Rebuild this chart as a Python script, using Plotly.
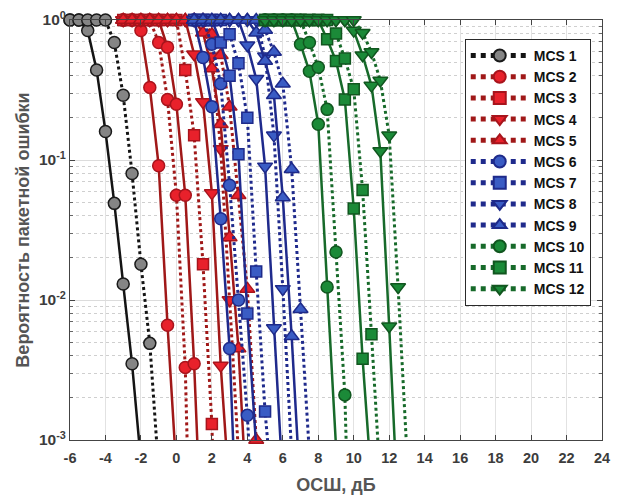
import plotly.graph_objects as go

# ---------------- data ----------------
mcs_names = ["MCS 1", "MCS 2", "MCS 3", "MCS 4", "MCS 5", "MCS 6",
             "MCS 7", "MCS 8", "MCS 9", "MCS 10", "MCS 11", "MCS 12"]

x_tick_vals = [-6, -4, -2, 0, 2, 4, 6, 8, 10, 12, 14, 16, 18, 20, 22, 24]
x_tick_text = ["-6", "-4", "-2", "0", "2", "4", "6", "8", "10", "12", "14", "16", "18", "20", "22", "24"]
y_tick_vals = [0.001, 0.01, 0.1, 1]
y_tick_text = ["10<sup>-3</sup>", "10<sup>-2</sup>", "10<sup>-1</sup>", "10<sup>0</sup>"]

# MCS 1
snr_1_solid = [-6, -5.5, -5, -4.5, -4, -3.5, -3, -2.5, -2]
per_1_solid = [1, 1, 0.84, 0.44, 0.16, 0.049, 0.013, 0.0035, 0.0007]
snr_1_dot = [-6, -5.5, -5, -4.5, -4, -3.5, -3, -2.5, -2, -1.5, -1]
per_1_dot = [1, 1, 1, 1, 1, 0.69, 0.29, 0.08, 0.018, 0.0049, 0.0006]
# MCS 2
snr_2_solid = [-3, -2.5, -2, -1.5, -1, -0.5, 0]
per_2_solid = [1, 1, 0.84, 0.33, 0.091, 0.0066, 0.0006]
snr_2_dot = [-3, -2.5, -2, -1.5, -1, -0.5, 0, 0.5, 1]
per_2_dot = [1, 1, 1, 1, 0.69, 0.27, 0.056, 0.0033, 0.00001]
# MCS 3
snr_3_solid = [-3, -2.5, -2, -1.5, -1, -0.5, 0, 0.5, 1, 1.5]
per_3_solid = [1, 1, 1, 1, 1, 0.64, 0.25, 0.056, 0.0035, 0.0001]
snr_3_dot = [-3, -2.5, -2, -1.5, -1, -0.5, 0, 0.5, 1, 1.5, 2, 2.5]
per_3_dot = [1, 1, 1, 1, 1, 1, 1, 0.44, 0.15, 0.018, 0.0013, 0.00001]
# MCS 4
snr_4_solid = [-3, -2.5, -2, -1.5, -1, -0.5, 0, 0.5, 1, 1.5, 2, 2.5, 3]
per_4_solid = [1, 1, 1, 1, 1, 1, 1, 1, 0.57, 0.26, 0.058, 0.0034, 0.0004]
snr_4_dot = [-3, -2.5, -2, -1.5, -1, -0.5, 0, 0.5, 1, 1.5, 2, 2.5, 3, 3.5]
per_4_dot = [1, 1, 1, 1, 1, 1, 1, 1, 1, 1, 0.55, 0.12, 0.01, 0.0008]
# MCS 5
snr_5_solid = [-3, -2.5, -2, -1.5, -1, -0.5, 0, 0.5, 1, 1.5, 2, 2.5, 3, 3.5, 4]
per_5_solid = [1, 1, 1, 1, 1, 1, 1, 1, 1, 0.81, 0.45, 0.18, 0.028, 0.0045, 0.0003]
snr_5_dot = [-3, -2.5, -2, -1.5, -1, -0.5, 0, 0.5, 1, 1.5, 2, 2.5, 3, 3.5, 4, 4.5]
per_5_dot = [1, 1, 1, 1, 1, 1, 1, 1, 1, 1, 0.79, 0.56, 0.24, 0.056, 0.012, 0.001]
# MCS 6
snr_6_solid = [1, 1.5, 2, 2.5, 3, 3.5]
per_6_solid = [1, 0.54, 0.24, 0.038, 0.0045, 0.0001]
snr_6_dot = [1, 1.5, 2, 2.5, 3, 3.5, 4, 4.5]
per_6_dot = [1, 1, 0.67, 0.35, 0.066, 0.01, 0.0015, 0.0001]
# MCS 7
snr_7_solid = [1, 1.5, 2, 2.5, 3, 3.5, 4, 4.5]
per_7_solid = [1, 1, 1, 0.69, 0.4, 0.11, 0.008, 0.0009]
snr_7_dot = [1, 1.5, 2, 2.5, 3, 3.5, 4, 4.5, 5, 5.5]
per_7_dot = [1, 1, 1, 1, 0.79, 0.49, 0.2, 0.016, 0.0016, 0.0003]
# MCS 8
snr_8_solid = [1, 1.5, 2, 2.5, 3, 3.5, 4, 4.5, 5, 5.5, 6]
per_8_solid = [1, 1, 1, 1, 1, 1, 0.66, 0.38, 0.09, 0.0063, 0.0005]
snr_8_dot = [1, 1.5, 2, 2.5, 3, 3.5, 4, 4.5, 5, 5.5, 6, 6.5]
per_8_dot = [1, 1, 1, 1, 1, 1, 1, 1, 0.55, 0.15, 0.012, 0.0008]
# MCS 9
snr_9_solid = [1, 1.5, 2, 2.5, 3, 3.5, 4, 4.5, 5, 5.5, 6, 6.5, 7]
per_9_solid = [1, 1, 1, 1, 1, 1, 1, 0.81, 0.51, 0.29, 0.054, 0.0055, 0.0004]
snr_9_dot = [1, 1.5, 2, 2.5, 3, 3.5, 4, 4.5, 5, 5.5, 6, 6.5, 7, 7.5]
per_9_dot = [1, 1, 1, 1, 1, 1, 1, 1, 0.85, 0.59, 0.35, 0.086, 0.0086, 0.0008]
# MCS 10
snr_10_solid = [5, 5.5, 6, 6.5, 7, 7.5, 8, 8.5, 9]
per_10_solid = [1, 1, 1, 1, 0.67, 0.43, 0.18, 0.0124, 0.0009]
snr_10_dot = [5, 5.5, 6, 6.5, 7, 7.5, 8, 8.5, 9, 9.5, 10]
per_10_dot = [1, 1, 1, 1, 1, 0.69, 0.46, 0.23, 0.022, 0.0021, 0.00001]
# MCS 11
snr_11_solid = [5, 5.5, 6, 6.5, 7, 7.5, 8, 8.5, 9, 9.5, 10, 10.5, 11]
per_11_solid = [1, 1, 1, 1, 1, 1, 1, 0.73, 0.51, 0.27, 0.045, 0.0038, 0.0005]
snr_11_dot = [5, 5.5, 6, 6.5, 7, 7.5, 8, 8.5, 9, 9.5, 10, 10.5, 11, 11.5]
per_11_dot = [1, 1, 1, 1, 1, 1, 1, 1, 0.8, 0.53, 0.32, 0.061, 0.0057, 0.0005]
# MCS 12
snr_12_solid = [5, 5.5, 6, 6.5, 7, 7.5, 8, 8.5, 9, 9.5, 10, 10.5, 11, 11.5, 12, 12.5]
per_12_solid = [1, 1, 1, 1, 1, 1, 1, 1, 1, 1, 0.84, 0.56, 0.34, 0.116, 0.0065, 0.0003]
snr_12_dot = [5, 5.5, 6, 6.5, 7, 7.5, 8, 8.5, 9, 9.5, 10, 10.5, 11, 11.5, 12, 12.5, 13]
per_12_dot = [1, 1, 1, 1, 1, 1, 1, 1, 1, 1, 1, 0.81, 0.59, 0.37, 0.15, 0.0124, 0.0008]

solid_x = [snr_1_solid, snr_2_solid, snr_3_solid, snr_4_solid, snr_5_solid, snr_6_solid,
           snr_7_solid, snr_8_solid, snr_9_solid, snr_10_solid, snr_11_solid, snr_12_solid]
solid_y = [per_1_solid, per_2_solid, per_3_solid, per_4_solid, per_5_solid, per_6_solid,
           per_7_solid, per_8_solid, per_9_solid, per_10_solid, per_11_solid, per_12_solid]
dot_x = [snr_1_dot, snr_2_dot, snr_3_dot, snr_4_dot, snr_5_dot, snr_6_dot,
         snr_7_dot, snr_8_dot, snr_9_dot, snr_10_dot, snr_11_dot, snr_12_dot]
dot_y = [per_1_dot, per_2_dot, per_3_dot, per_4_dot, per_5_dot, per_6_dot,
         per_7_dot, per_8_dot, per_9_dot, per_10_dot, per_11_dot, per_12_dot]

# ---------------- styles ----------------
groups = ["k", "r", "r", "r", "r", "b", "b", "b", "b", "g", "g", "g"]
symbols = ["circle", "circle", "square", "triangle-down", "triangle-up", "circle",
           "square", "triangle-down", "triangle-up", "circle", "square", "triangle-down"]
solid_symbols = ["circle", "circle", "circle", "triangle-down", "triangle-up", "circle",
                 "square", "triangle-down", "triangle-up", "circle", "square", "triangle-down"]
line_col = {"k": "#141414", "r": "#a01818", "b": "#1f2a8c", "g": "#176a2a"}
fill_col = {"k": "#858585", "r": "#e8212b", "b": "#3a5cc4", "g": "#1b8a38"}
edge_col = {"k": "#1a1a1a", "r": "#a8141c", "b": "#1e2a8a", "g": "#11561f"}
sym_size = {"circle": 12, "square": 11, "triangle-down": 13, "triangle-up": 13}


def sizes(vals, s):
    return [s if v >= 0.001 else 0 for v in vals]


fig = go.Figure()
for i, name in enumerate(mcs_names):
    g = groups[i]
    fig.add_trace(go.Scatter(
        x=solid_x[i], y=solid_y[i], mode="lines+markers", showlegend=False,
        line=dict(color=line_col[g], width=2.5),
        marker=dict(symbol=solid_symbols[i], size=sizes(solid_y[i], sym_size[solid_symbols[i]]),
                    opacity=1, color=fill_col[g], line=dict(color=edge_col[g], width=1.5)),
        cliponaxis=False, hoverinfo="skip"))
    fig.add_trace(go.Scatter(
        x=dot_x[i], y=dot_y[i], mode="lines+markers", name=name,
        line=dict(color=line_col[g], width=3, dash="dot"),
        marker=dict(symbol=symbols[i], size=sizes(dot_y[i], sym_size[symbols[i]]),
                    opacity=1, color=fill_col[g], line=dict(color=edge_col[g], width=1.5)),
        cliponaxis=False, hoverinfo="skip"))

minor_vals = [m * 10.0 ** e for e in (-3, -2, -1) for m in range(2, 10)]

fig.update_layout(
    width=619, height=501,
    margin=dict(l=70, r=9, t=14, b=61),
    paper_bgcolor="white", plot_bgcolor="white",
    font=dict(family="Liberation Sans, Arial, sans-serif", size=14, color="#3c3c3c"),
    legend=dict(x=0.742, y=0.955, xanchor="left", yanchor="top",
                bgcolor="white", bordercolor="#2a2a2a", borderwidth=1,
                font=dict(size=14, color="#111111", weight="bold"),
                itemwidth=58, itemsizing="constant", tracegroupgap=0),
    xaxis=dict(range=[-6, 24], tickmode="array", tickvals=x_tick_vals, ticktext=x_tick_text,
               ticks="inside", ticklen=5, tickcolor="#444", ticklabelstandoff=5,
               showgrid=True, gridcolor="#e2e2e2", gridwidth=1, zeroline=False,
               showline=True, linecolor="#444", linewidth=1, mirror="ticks",
               tickfont=dict(size=14.5, weight="bold", color="#3c3c3c"),
               title=dict(text="ОСШ, дБ", font=dict(size=18, weight="bold", color="#555555"),
                          standoff=12)),
    yaxis=dict(type="log", range=[-3, 0], tickmode="array", tickvals=y_tick_vals,
               ticktext=y_tick_text, ticks="inside", ticklen=5, tickcolor="#444",
               showgrid=True, gridcolor="#dcdcdc", gridwidth=1, zeroline=False,
               showline=True, linecolor="#444", linewidth=1, mirror="ticks",
               minor=dict(tickmode="array", tickvals=minor_vals, ticks="inside", ticklen=3,
                          tickcolor="#666", showgrid=True, gridcolor="#cfcfcf",
                          griddash="dot", gridwidth=1),
               tickfont=dict(size=15.5, weight="bold", color="#3c3c3c"),
               title=dict(text="Вероятность пакетной ошибки",
                          font=dict(size=18, weight="bold", color="#555555"), standoff=4)),
)

fig.write_html("out.html")
